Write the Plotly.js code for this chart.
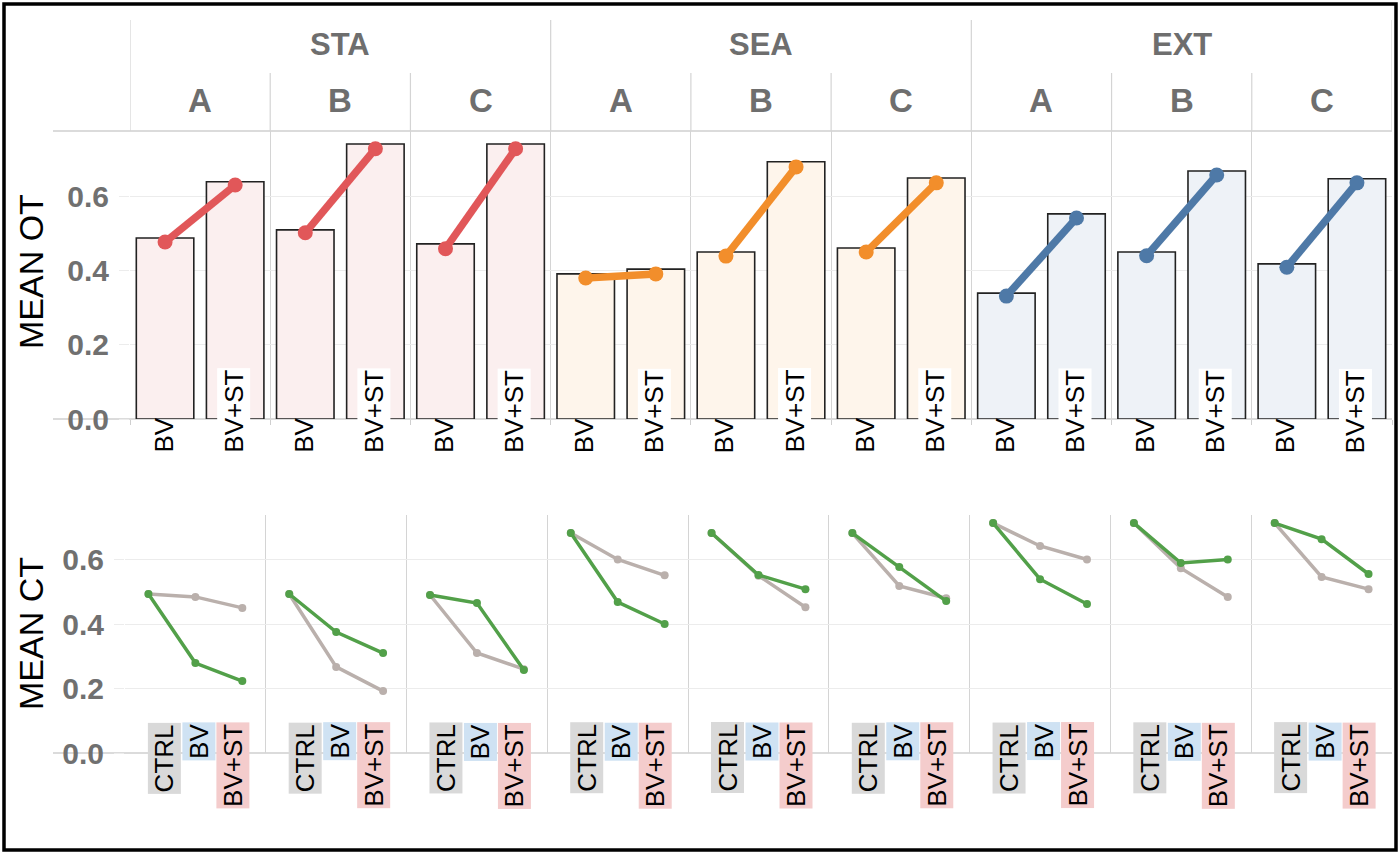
<!DOCTYPE html>
<html>
<head>
<meta charset="utf-8">
<script src="https://cdn.plot.ly/plotly-3.0.1.min.js"></script>
<style>
  html, body { margin: 0; padding: 0; background: #fff; }
  #chart { width: 1400px; height: 854px; }
</style>
</head>
<body>
<div id="chart"></div>
<script>
// facets, left to right
var groups = ['STA', 'SEA', 'EXT'];
var subgroups = ['A', 'B', 'C'];
var otConds = ['BV', 'BV+ST'];
var ctConds = ['CTRL', 'BV', 'BV+ST'];

// MEAN OT: bar heights and the line points drawn over them (STA A,B,C, SEA A,B,C, EXT A,B,C)
var otBarBV     = [0.489, 0.511, 0.473, 0.392, 0.451, 0.462, 0.340, 0.451, 0.419];
var otBarBVST   = [0.641, 0.743, 0.743, 0.405, 0.695, 0.651, 0.554, 0.670, 0.649];
var otPointBV   = [0.478, 0.503, 0.460, 0.381, 0.440, 0.451, 0.332, 0.441, 0.410];
var otPointBVST = [0.632, 0.730, 0.730, 0.392, 0.681, 0.638, 0.543, 0.659, 0.638];

// MEAN CT: CTRL is shared by both lines
var ctCtrl      = [0.493, 0.493, 0.490, 0.682, 0.682, 0.682, 0.713, 0.713, 0.713];
var ctGreyBV    = [0.484, 0.267, 0.310, 0.600, 0.550, 0.518, 0.642, 0.573, 0.546];
var ctGreyBVST  = [0.450, 0.192, 0.260, 0.551, 0.452, 0.480, 0.600, 0.484, 0.508];
var ctGreenBV   = [0.279, 0.375, 0.465, 0.468, 0.552, 0.577, 0.539, 0.589, 0.663];
var ctGreenBVST = [0.223, 0.310, 0.257, 0.400, 0.508, 0.471, 0.462, 0.600, 0.555];

var groupLine = ['#E15759', '#F28E2B', '#4E79A7'];
var groupFill = ['#FBEFEF', '#FEF5EB', '#EEF2F7'];
var labelBg = {'CTRL': '#D9D9D9', 'BV': '#CFE2F3', 'BV+ST': '#F4CCCC'};

var W = 1400, H = 854;
function px(x) { return x / W; }
function py(y) { return 1 - y / H; }
var FONT = 'Liberation Sans, Arial, sans-serif';
var nFacets = groups.length * subgroups.length;

// bars
var barX = [], barY = [], barC = [];
for (var i = 0; i < nFacets; i++) {
  var g = Math.floor(i / 3);
  barX.push(2 * i, 2 * i + 1);
  barY.push(otBarBV[i], otBarBVST[i]);
  barC.push(groupFill[g], groupFill[g]);
}
var data = [{
  type: 'bar', x: barX, y: barY, width: 0.82,
  marker: {color: barC, line: {color: '#222', width: 1.6}},
  xaxis: 'x', yaxis: 'y', hoverinfo: 'skip'
}];

// thick lines per group
groups.forEach(function (name, g) {
  var lx = [], ly = [];
  for (var s = 0; s < 3; s++) {
    var i = g * 3 + s;
    lx.push(2 * i, 2 * i + 1, null);
    ly.push(otPointBV[i], otPointBVST[i], null);
  }
  data.push({
    type: 'scatter', mode: 'lines+markers', x: lx, y: ly, name: name,
    line: {color: groupLine[g], width: 7.5}, marker: {color: groupLine[g], size: 15},
    xaxis: 'x', yaxis: 'y', connectgaps: false
  });
});

// lower panel lines
function ctTrace(bv, bvst, color) {
  var lx = [], ly = [];
  for (var i = 0; i < nFacets; i++) {
    lx.push(3 * i, 3 * i + 1, 3 * i + 2, null);
    ly.push(ctCtrl[i], bv[i], bvst[i], null);
  }
  return {
    type: 'scatter', mode: 'lines+markers', x: lx, y: ly,
    line: {color: color, width: 3.5}, marker: {color: color, size: 8},
    xaxis: 'x2', yaxis: 'y2', connectgaps: false
  };
}
data.push(ctTrace(ctGreyBV, ctGreyBVST, '#BAB0AC'));
data.push(ctTrace(ctGreenBV, ctGreenBVST, '#52A049'));

var topBounds = [], botBounds = [];
for (var i = 0; i <= nFacets; i++) { topBounds.push(2 * i - 0.5); botBounds.push(3 * i - 0.5); }

var tickFont = {family: FONT, size: 30, color: '#707070', weight: 'bold'};
var annotations = [], shapes = [];

function centered(a) { a.xanchor = a.xanchor || 'center'; a.yanchor = a.yanchor || 'middle'; a.showarrow = false; return a; }

// headers
groups.forEach(function (name, g) {
  annotations.push(centered({text: name, x: 6 * g + 2.5, xref: 'x', y: py(45), yref: 'paper',
    font: {family: FONT, size: 31, color: '#6e6e6e', weight: 'bold'}}));
});
for (var i = 0; i < nFacets; i++) {
  annotations.push(centered({text: subgroups[i % 3], x: 2 * i + 0.5, xref: 'x', y: py(100), yref: 'paper',
    font: {family: FONT, size: 33, color: '#6e6e6e', weight: 'bold'}}));
  // rotated condition labels, upper panel
  otConds.forEach(function (c, k) {
    annotations.push(centered({text: c, x: 2 * i + k, xref: 'x', xshift: -2, y: py(455), yref: 'paper',
      yanchor: 'bottom', textangle: -90,
      bgcolor: k === 1 ? '#ffffff' : 'rgba(0,0,0,0)', borderpad: 1,
      font: {family: FONT, size: 26, color: '#000'}}));
  });
  // rotated condition labels, lower panel
  var shifts = [-31, 3, 37];
  ctConds.forEach(function (c, k) {
    annotations.push(centered({text: c, x: 3 * i + 1, xref: 'x2', xshift: shifts[k], y: py(722), yref: 'paper',
      yanchor: 'top', textangle: -90, bgcolor: labelBg[c], borderpad: 1,
      font: {family: FONT, size: 26, color: '#000'}}));
  });
}
annotations.push(centered({text: 'MEAN OT', x: px(31), y: py(272), xref: 'paper', yref: 'paper',
  textangle: -90, font: {family: FONT, size: 34, color: '#000'}}));
annotations.push(centered({text: 'MEAN CT', x: px(31), y: py(634), xref: 'paper', yref: 'paper',
  textangle: -90, font: {family: FONT, size: 34, color: '#000'}}));

// header dividers
for (var i = 0; i <= nFacets; i++) {
  shapes.push({type: 'line', xref: 'x', yref: 'paper', x0: 2 * i - 0.5, x1: 2 * i - 0.5,
    y0: py(i % 3 === 0 ? 20 : 73), y1: py(131), line: {color: '#d4d4d4', width: 1.2}});
}
// horizontal rules
[131, 419, 753].forEach(function (y) {
  shapes.push({type: 'line', xref: 'paper', yref: 'paper', x0: px(53), x1: px(1392),
    y0: py(y), y1: py(y), layer: 'below', line: {color: '#cfcfcf', width: 1.5}});
});
// frame
shapes.push({type: 'rect', xref: 'paper', yref: 'paper', x0: px(4), x1: px(1396),
  y0: py(850), y1: py(4), line: {color: '#000', width: 3.5}});

var layout = {
  width: W, height: H,
  margin: {l: 0, r: 0, t: 0, b: 0},
  paper_bgcolor: '#fff', plot_bgcolor: 'rgba(0,0,0,0)',
  showlegend: false, bargap: 0,
  xaxis: {domain: [px(130), px(1392)], range: [-0.5, 17.5], tickvals: topBounds,
    showticklabels: false, showgrid: true, gridcolor: '#d4d4d4', gridwidth: 1.2,
    ticks: 'outside', ticklen: 5, tickcolor: '#cfcfcf', zeroline: false, showline: false,
    anchor: 'y', fixedrange: true},
  yaxis: {domain: [py(419), py(131)], range: [0, 0.778], tickvals: [0, 0.2, 0.4, 0.6],
    ticktext: ['0.0', '0.2', '0.4', '0.6'], tickfont: tickFont, showgrid: true, gridcolor: '#ececec',
    ticks: 'outside', ticklen: 10, tickcolor: '#ececec', ticklabelstandoff: 4,
    zeroline: false, showline: false, anchor: 'x'},
  xaxis2: {domain: [px(125), px(1392)], range: [-0.5, 26.5], tickvals: botBounds,
    showticklabels: false, showgrid: true, gridcolor: '#d4d4d4', gridwidth: 1.2,
    ticks: '', zeroline: false, showline: false, anchor: 'y2'},
  yaxis2: {domain: [py(753), py(515)], range: [0, 0.738], tickvals: [0, 0.2, 0.4, 0.6],
    ticktext: ['0.0', '0.2', '0.4', '0.6'], tickfont: tickFont, showgrid: true, gridcolor: '#ececec',
    ticks: 'outside', ticklen: 10, tickcolor: '#ececec', ticklabelstandoff: 4,
    zeroline: false, showline: false, anchor: 'x2'},
  annotations: annotations,
  shapes: shapes
};

Plotly.newPlot('chart', data, layout, {displayModeBar: false, staticPlot: true});
</script>
</body>
</html>
